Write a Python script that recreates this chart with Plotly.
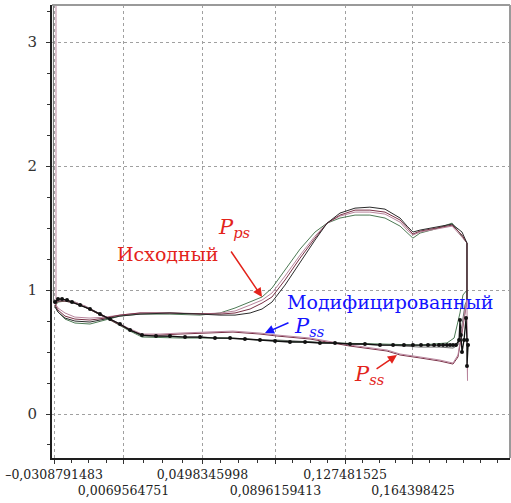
import plotly.graph_objects as go

# Axis ticks (values as printed by the solver, decimal comma)
X_TICKS = [-0.0308791483, 0.0069564751, 0.0498345998, 0.0896159413, 0.127481525, 0.164398425]
X_TICK_TEXT = ["–0,0308791483", "0,0069564751", "0,0498345998", "0,0896159413", "0,127481525", "0,164398425"]
Y_TICKS = [0, 1, 2, 3]

# ---- Pressure side, original blade variants ----
ps_x = [-0.0303, -0.0287, -0.0249, -0.0195, -0.0113, -0.0031, 0.0050, 0.0159, 0.0322, 0.0486,
        0.0594, 0.0676, 0.0758, 0.0823, 0.0877, 0.0948, 0.1030, 0.1111, 0.1177, 0.1247,
        0.1329, 0.1410, 0.1492, 0.1574, 0.1612, 0.1644, 0.1683, 0.1764, 0.1857, 0.1911, 0.1938, 0.1938]
ps_maroon = [0.879, 0.839, 0.790, 0.766, 0.758, 0.774, 0.798, 0.815, 0.815, 0.806,
             0.806, 0.815, 0.847, 0.895, 0.944, 1.081, 1.258, 1.419, 1.540, 1.605,
             1.645, 1.645, 1.629, 1.565, 1.500, 1.452, 1.476, 1.500, 1.524, 1.444, 1.379, 0.92]
ps_pink = [0.895, 0.855, 0.815, 0.782, 0.774, 0.782, 0.798, 0.815, 0.815, 0.806,
           0.815, 0.831, 0.879, 0.919, 0.976, 1.113, 1.282, 1.435, 1.540, 1.597,
           1.629, 1.629, 1.613, 1.548, 1.484, 1.444, 1.468, 1.492, 1.516, 1.427, 1.379, 0.92]
ps_green = [0.871, 0.823, 0.766, 0.734, 0.726, 0.758, 0.790, 0.806, 0.806, 0.798,
            0.815, 0.855, 0.903, 0.944, 1.016, 1.161, 1.331, 1.468, 1.540, 1.581,
            1.605, 1.605, 1.581, 1.516, 1.460, 1.419, 1.460, 1.492, 1.540, 1.435, 1.379, 0.92]
# ---- Pressure side, modified blade ----
ps_mod = [0.863, 0.823, 0.774, 0.750, 0.742, 0.766, 0.790, 0.806, 0.815, 0.806,
          0.798, 0.798, 0.815, 0.847, 0.903, 1.040, 1.226, 1.403, 1.540, 1.621,
          1.661, 1.669, 1.653, 1.581, 1.516, 1.468, 1.484, 1.508, 1.532, 1.468, 1.379, 0.92]

# Trailing-edge drop of the original contour
te_x = [0.1938, 0.1941, 0.1936, 0.1940]
te_y = [0.92, 0.27, 0.56, 0.40]

# ---- Suction side, original blade variants ----
ss_x = [-0.0303, -0.0287, -0.0249, -0.0195, -0.0140, -0.0075, 0.0007, 0.0094, 0.0170, 0.0268,
        0.0377, 0.0486, 0.0665, 0.0812, 0.0905, 0.1084, 0.1302, 0.1503, 0.1574, 0.1683,
        0.1791, 0.1862, 0.1889, 0.1911, 0.1927, 0.1938]
ss_pink = [0.895, 0.919, 0.919, 0.903, 0.871, 0.823, 0.758, 0.694, 0.645, 0.645,
           0.653, 0.661, 0.669, 0.653, 0.637, 0.613, 0.556, 0.516, 0.484, 0.460,
           0.435, 0.411, 0.476, 0.677, 0.839, 0.919]
ss_maroon = [0.879, 0.911, 0.911, 0.895, 0.863, 0.815, 0.750, 0.685, 0.637, 0.637,
             0.645, 0.653, 0.661, 0.645, 0.629, 0.605, 0.548, 0.508, 0.476, 0.452,
             0.427, 0.403, 0.460, 0.653, 0.839, 0.919]
ss_gray = [0.887, 0.911, 0.919, 0.903, 0.871, 0.823, 0.758, 0.685, 0.629, 0.629,
           0.621, 0.621, 0.605, 0.597, 0.597, 0.581, 0.565, 0.556, 0.548, 0.540,
           0.540, 0.532, 0.556, 0.718, 0.879, 0.919]
ssg_x = [-0.0303, -0.0287, -0.0249, -0.0195, -0.0140, -0.0075, 0.0007, 0.0094, 0.0170, 0.0377,
         0.0649, 0.0905, 0.1193, 0.1465, 0.1683, 0.1829, 0.1868, 0.1900, 0.1916, 0.1938]
ss_green = [0.871, 0.903, 0.911, 0.895, 0.863, 0.815, 0.750, 0.677, 0.621, 0.613,
            0.613, 0.589, 0.573, 0.565, 0.556, 0.573, 0.613, 0.815, 0.960, 1.000]

# Leading-edge spikes (run off the top of the plot)
le_x1 = [-0.0298, -0.0298, -0.0303]
le_y1 = [3.6, 0.92, 0.895]
le_x2 = [-0.0312, -0.0312, -0.0303]
le_y2 = [3.6, 0.90, 0.887]

# ---- Suction side, modified blade (solver nodes shown as dots) ----
ssm_x = [-0.0303, -0.0287, -0.0265, -0.0238, -0.0211, -0.0167, -0.0113, -0.0059, -0.0004, 0.0050,
         0.0105, 0.0170, 0.0246, 0.0322, 0.0404, 0.0486, 0.0567, 0.0649, 0.0730, 0.0812,
         0.0894, 0.0975, 0.1057, 0.1138, 0.1220, 0.1302, 0.1383, 0.1465, 0.1536, 0.1595,
         0.1644, 0.1688, 0.1726, 0.1759, 0.1786, 0.1808, 0.1829, 0.1846, 0.1862, 0.1878,
         0.1895, 0.1900, 0.1905, 0.1911, 0.1922, 0.1933, 0.1938, 0.1938, 0.1944]
ssm_y = [0.903, 0.927, 0.927, 0.919, 0.903, 0.879, 0.847, 0.806, 0.766, 0.726,
         0.677, 0.637, 0.629, 0.629, 0.621, 0.621, 0.613, 0.613, 0.605, 0.597,
         0.589, 0.581, 0.581, 0.573, 0.573, 0.565, 0.565, 0.556, 0.556, 0.556,
         0.556, 0.556, 0.556, 0.556, 0.556, 0.556, 0.556, 0.556, 0.556, 0.556,
         0.597, 0.758, 0.637, 0.500, 0.597, 0.774, 0.597, 0.387, 0.556]

PINK = "#b8849c"
MAROON = "#7a3046"
GREEN = "#4d7a55"
GRAY = "#6e6e6e"
BLACK = "#111111"
RED = "#e3231b"
BLUE = "#1414ff"
FONT = "DejaVu Serif"

fig = go.Figure()


def line(x, y, color, width=1.0, markers=False):
    fig.add_trace(go.Scatter(
        x=x, y=y, mode="lines+markers" if markers else "lines",
        line=dict(color=color, width=width),
        marker=dict(color=BLACK, size=4) if markers else None,
        hoverinfo="skip", showlegend=False, cliponaxis=True))


line(le_x1, le_y1, PINK)
line(le_x2, le_y2, GRAY)
line(ss_x, ss_gray, GRAY)
line(ssg_x, ss_green, GREEN)
line(ss_x, ss_maroon, MAROON)
line(ss_x, ss_pink, PINK)
line(ps_x, ps_green, GREEN)
line(ps_x, ps_pink, PINK)
line(ps_x, ps_maroon, MAROON)
line(ps_x, ps_mod, "#2a2a2a", 1.0)
line(te_x, te_y, PINK)
line(ssm_x, ssm_y, BLACK, 1.3, markers=True)

# Minor ticks: quarter steps between the labelled ticks
minor_x = []
for a, b in zip(X_TICKS[:-1], X_TICKS[1:]):
    minor_x += [a + (b - a) * k / 4 for k in (1, 2, 3)]
step = (X_TICKS[-1] - X_TICKS[-2]) / 4
minor_x += [X_TICKS[-1] + step * k for k in range(1, 13)]

# Staggered tick labels: every other one on a second row
tick_text = [t if i % 2 == 0 else "<br>" + t for i, t in enumerate(X_TICK_TEXT)]

fig.update_xaxes(
    range=[-0.03197, 0.21721], tickmode="array", tickvals=X_TICKS, ticktext=tick_text,
    tickangle=0, automargin=False,
    showline=True, linecolor="#1e1e1e", linewidth=2, mirror=False,
    ticks="outside", ticklen=4, tickcolor="#333", tickwidth=1,
    showgrid=True, gridcolor="#a0a0a0", griddash="dot", gridwidth=1, zeroline=False,
    tickfont=dict(family=FONT, size=12.5, color="#222"),
    minor=dict(tickmode="array", tickvals=minor_x, ticklen=3, tickcolor="#333", showgrid=False),
)
fig.update_yaxes(
    range=[-0.355, 3.30], tickmode="array", tickvals=Y_TICKS, automargin=False,
    showline=True, linecolor="#1e1e1e", linewidth=2, mirror=False,
    ticks="outside", ticklen=4, tickcolor="#333", tickwidth=1,
    showgrid=True, gridcolor="#a0a0a0", griddash="dot", gridwidth=1, zeroline=False,
    tickfont=dict(family=FONT, size=15, color="#333"), ticklabelstandoff=6,
    minor=dict(dtick=0.25, tick0=0, ticklen=3, tickcolor="#333", showgrid=False),
)

# Light top/right frame edges
fig.add_shape(type="line", xref="paper", yref="paper", x0=0, x1=1, y0=1, y1=1,
              line=dict(color="#9a9a9a", width=2))
fig.add_shape(type="line", xref="paper", yref="paper", x0=1, x1=1, y0=0, y1=1,
              line=dict(color="#9a9a9a", width=2))

# Labels
fig.add_annotation(x=0.0311, y=1.29, text="Исходный", showarrow=False,
                   font=dict(family=FONT, size=19, color=RED))
fig.add_annotation(x=0.0671, y=1.50, text="<i>P<sub>ps</sub></i>", showarrow=False,
                   font=dict(family=FONT, size=21, color=RED))
fig.add_annotation(x=0.1519, y=0.905, text="Модифицированный", showarrow=False,
                   font=dict(family=FONT, size=19, color=BLUE))
fig.add_annotation(x=0.1079, y=0.705, text="<i>P<sub>ss</sub></i>", showarrow=False,
                   font=dict(family=FONT, size=21, color=BLUE))
fig.add_annotation(x=0.1405, y=0.315, text="<i>P<sub>ss</sub></i>", showarrow=False,
                   font=dict(family=FONT, size=21, color=RED))

# Pointer arrows
for (hx, hy, tx, ty, col) in [(0.0823, 0.944, 0.0649, 1.323, RED),
                              (0.0839, 0.653, 0.0975, 0.742, BLUE),
                              (0.1557, 0.476, 0.1438, 0.355, RED)]:
    fig.add_annotation(x=hx, y=hy, ax=tx, ay=ty, xref="x", yref="y", axref="x", ayref="y",
                       text="", showarrow=True, arrowhead=2, arrowsize=1.2, arrowwidth=1.5,
                       arrowcolor=col)

fig.update_layout(
    width=511, height=503, margin=dict(l=52, r=1, t=5, b=45),
    paper_bgcolor="white", plot_bgcolor="white", showlegend=False,
)

fig.write_html("out.html")
